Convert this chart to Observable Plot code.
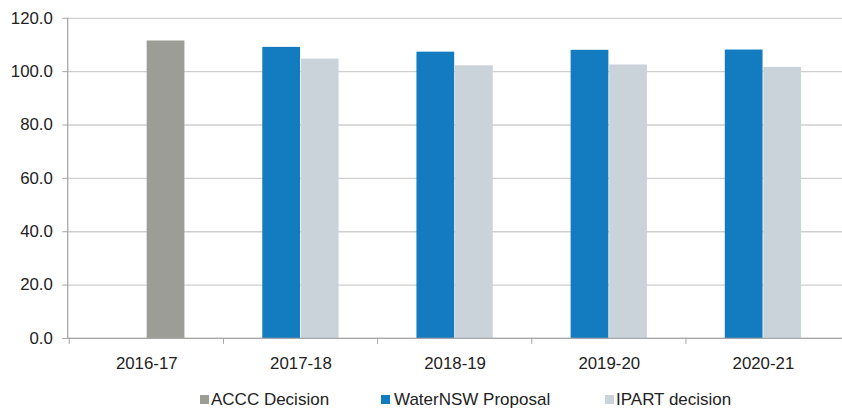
<!DOCTYPE html>
<html>
<head>
<meta charset="utf-8">
<script src="https://cdn.jsdelivr.net/npm/d3@7"></script>
<script src="https://cdn.jsdelivr.net/npm/@observablehq/plot@0.6"></script>
<style>
  html, body { margin: 0; padding: 0; background: #fff; overflow: hidden; width: 842px; height: 409px; }
  #wrap { position: relative; width: 842px; height: 409px; overflow: hidden; font-family: "Liberation Sans", Arial, sans-serif; }
  #legend { position: absolute; left: 0; top: 390px; width: 842px; font-size: 17px; line-height: 1.15; color: #222; }
  #legend .sw { position: absolute; top: 5px; width: 9px; height: 9px; }
  #legend .tx { position: absolute; top: 0; white-space: nowrap; }
</style>
</head>
<body>
<div id="wrap"><div id="chart"></div><div id="legend"></div></div>
<script>
const years = ["2016-17", "2017-18", "2018-19", "2019-20", "2020-21"];
const acccDecision = [111.5, null, null, null, null];
const waterNSWProposal = [null, 109.1, 107.3, 108.0, 108.1];
const ipartDecision = [null, 104.7, 102.2, 102.5, 101.6];
const seriesNames = ["ACCC Decision", "WaterNSW Proposal", "IPART decision"];
const seriesColors = ["#9d9d97", "#137bbf", "#cbd3da"];
const yTicks = [0, 20, 40, 60, 80, 100, 120];

const rowsLeft = [];
const rowsRight = [];
years.forEach((y, i) => {
  if (acccDecision[i] != null) rowsRight.push({year: y, series: seriesNames[0], value: acccDecision[i]});
  if (waterNSWProposal[i] != null) rowsLeft.push({year: y, series: seriesNames[1], value: waterNSWProposal[i]});
  if (ipartDecision[i] != null) rowsRight.push({year: y, series: seriesNames[2], value: ipartDecision[i]});
});

const W = 852, H = 380, mL = 68, mR = 0, mT = 18, mB = 38;
const band = (W - mL - mR) / years.length;
const barW = 39;
const half = band / 2;

const chart = Plot.plot({
  width: W,
  height: H,
  marginLeft: mL,
  marginRight: mR,
  marginTop: mT,
  marginBottom: mB,
  style: {fontFamily: "'Liberation Sans', Arial, sans-serif", fontSize: "17px", color: "#222", background: "#fff"},
  x: {type: "band", domain: years, padding: 0, label: null},
  y: {domain: [0, 120], label: null},
  color: {domain: seriesNames, range: seriesColors},
  marks: [
    Plot.gridY(yTicks, {stroke: "#cfcfcf", strokeOpacity: 1, strokeWidth: 1.3}),
    Plot.barY(rowsLeft, {x: "year", y: "value", fill: "series", insetLeft: half - barW, insetRight: half}),
    Plot.barY(rowsRight, {x: "year", y: "value", fill: "series", insetLeft: half, insetRight: half - barW}),
    Plot.ruleY([0], {stroke: "#a6a6a6", strokeWidth: 1.3}),
    Plot.frame({anchor: "left", stroke: "#a6a6a6", strokeWidth: 1.3}),
    Plot.axisY(yTicks, {tickFormat: d => d.toFixed(1), tickSize: 5, tickPadding: 10, stroke: "#a6a6a6", fill: "#222", label: null}),
    Plot.axisX(years, {tickSize: 6, text: null, dx: -half, stroke: "#a6a6a6", label: null}),
    Plot.axisX(years, {tickSize: 0, tickPadding: 19, fill: "#222", label: null})
  ]
});
document.getElementById("chart").appendChild(chart);

const legendItems = [
  {name: seriesNames[0], color: seriesColors[0], sx: 200, tx: 211},
  {name: seriesNames[1], color: seriesColors[1], sx: 381, tx: 394},
  {name: seriesNames[2], color: seriesColors[2], sx: 605, tx: 616}
];
const legend = document.getElementById("legend");
legendItems.forEach(it => {
  const sw = document.createElement("span");
  sw.className = "sw";
  sw.style.left = it.sx + "px";
  sw.style.background = it.color;
  legend.appendChild(sw);
  const tx = document.createElement("span");
  tx.className = "tx";
  tx.style.left = it.tx + "px";
  tx.textContent = it.name;
  legend.appendChild(tx);
});
</script>
</body>
</html>
